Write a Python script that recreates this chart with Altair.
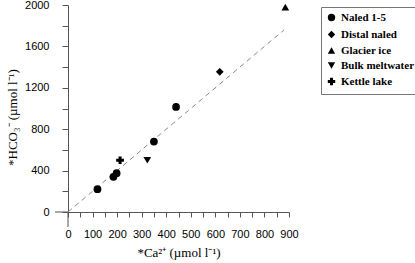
import altair as alt
import pandas as pd

# ---- data ----
groups = ["Naled 1-5"] * 5 + ["Distal naled", "Glacier ice", "Bulk meltwater", "Kettle lake"]
ca = [120, 185, 198, 350, 440, 618, 885, 323, 212]
hco3 = [220, 340, 375, 680, 1015, 1355, 1980, 500, 500]
legend_order = ["Naled 1-5", "Distal naled", "Glacier ice", "Bulk meltwater", "Kettle lake"]
shapes = ["circle", "diamond", "triangle-up", "triangle-down", "cross"]
line_x = [0, 880]
line_y = [0, 1760]
x_ticks = list(range(0, 901, 50))
y_ticks = list(range(0, 2001, 200))

df = pd.DataFrame({"group": groups, "ca": ca, "hco3": hco3})
line_df = pd.DataFrame({"ca": line_x, "hco3": line_y})
one = pd.DataFrame({"k": [0]})

x_title = "*Ca²⁺ (µmol l⁻¹)"
y_title = "*HCO₃⁻ (µmol l⁻¹)"
AX = "#555"
H = 207

axis_common = dict(
    grid=False,
    domainColor=AX,
    tickColor=AX,
    labelColor="black",
    labelFont="Liberation Sans",
    labelFontSize=11,
    labelOverlap=False,
    labelFlush=False,
    format="d",
    titleFont="Liberation Serif",
    titleFontWeight="normal",
    titleFontSize=13,
    titleColor="black",
)

x_enc = alt.X(
    "ca:Q",
    scale=alt.Scale(domain=[0, 900], nice=False),
    axis=alt.Axis(
        title=x_title,
        values=x_ticks,
        labelExpr="datum.value % 100 === 0 ? datum.label : ''",
        tickSize=5,
        labelPadding=11,
        labelBaseline="top",
        titlePadding=7,
        **axis_common,
    ),
)
y_enc = alt.Y(
    "hco3:Q",
    scale=alt.Scale(domain=[0, 2000], nice=False),
    axis=alt.Axis(
        title=y_title,
        values=y_ticks,
        labelExpr="datum.value % 400 === 0 ? datum.label : ''",
        tickSize=6,
        labelPadding=13,
        titlePadding=5,
        titleY=112,
        **axis_common,
    ),
)

line = alt.Chart(line_df).mark_line(
    color="#888", strokeDash=[5, 4], strokeWidth=1
).encode(x=x_enc, y=y_enc)

# axis lines extend a little past the origin (longer zero ticks)
ext_h = alt.Chart(one).mark_rule(color=AX, strokeWidth=1).encode(
    x=alt.value(-13), x2=alt.value(0), y=alt.value(H)
)
ext_v = alt.Chart(one).mark_rule(color=AX, strokeWidth=1).encode(
    x=alt.value(0), y=alt.value(H), y2=alt.value(H + 15)
)

points = alt.Chart(df).mark_point(
    filled=True, opacity=1, color="black", size=60
).encode(
    x=x_enc,
    y=y_enc,
    shape=alt.Shape(
        "group:N",
        scale=alt.Scale(domain=legend_order, range=shapes),
        legend=alt.Legend(
            title=None,
            orient="none",
            legendX=253,
            legendY=2,
            strokeColor="#777",
            fillColor="white",
            padding=5,
            labelFont="Liberation Serif",
            labelFontWeight="bold",
            labelFontSize=11,
            labelColor="black",
            symbolSize=55,
            symbolFillColor="black",
            symbolStrokeColor="black",
            rowPadding=2,
            labelOffset=4,
        ),
    ),
)

chart = (
    alt.layer(line, ext_h, ext_v, points)
    .properties(
        width=221,
        height=H,
        autosize=alt.AutoSizeParams(type="none"),
        padding={"left": 68, "top": 5, "right": 126, "bottom": 51},
        background="white",
    )
    .configure_view(stroke=None)
)

chart.save("out.html", embed_options={"renderer": "svg", "actions": False})
